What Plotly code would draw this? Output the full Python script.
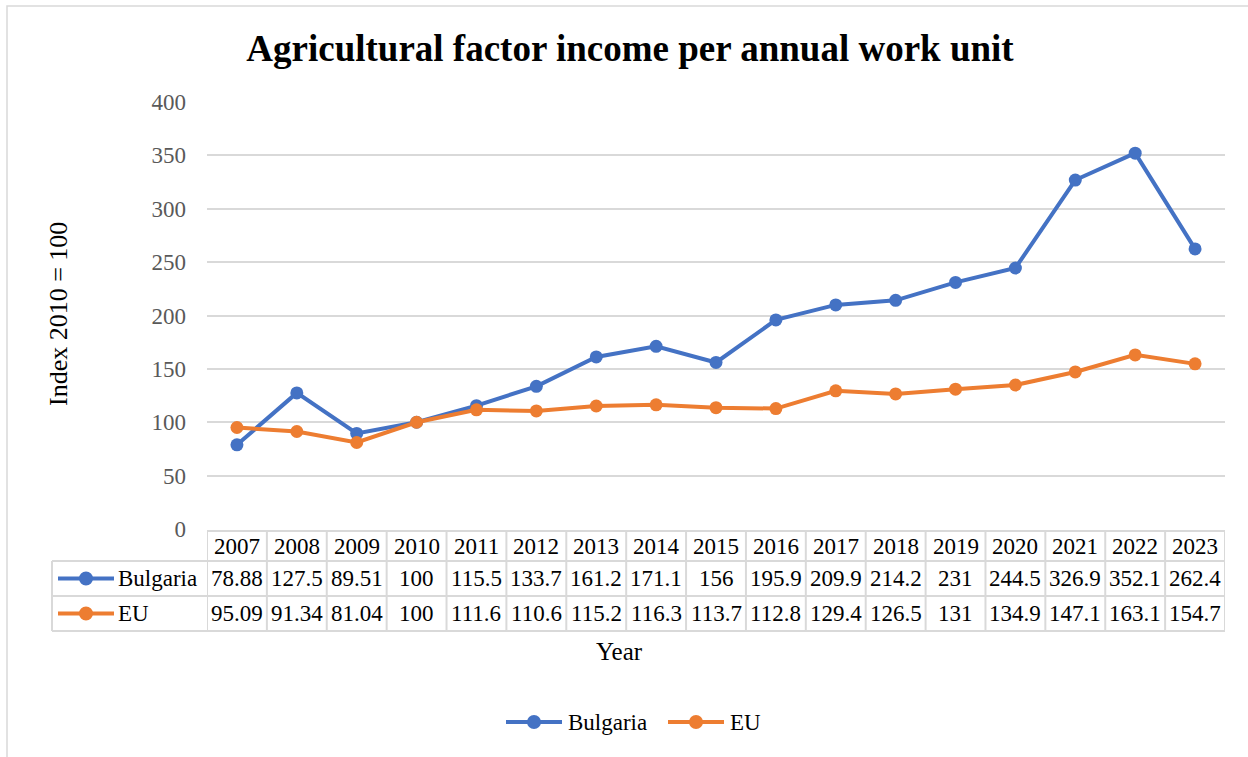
import plotly.graph_objects as go

# Index of agricultural factor income per annual work unit (2010 = 100)
years = ["2007", "2008", "2009", "2010", "2011", "2012", "2013", "2014", "2015",
         "2016", "2017", "2018", "2019", "2020", "2021", "2022", "2023"]
bulgaria = [78.88, 127.5, 89.51, 100, 115.5, 133.7, 161.2, 171.1, 156,
            195.9, 209.9, 214.2, 231, 244.5, 326.9, 352.1, 262.4]
eu = [95.09, 91.34, 81.04, 100, 111.6, 110.6, 115.2, 116.3, 113.7,
      112.8, 129.4, 126.5, 131, 134.9, 147.1, 163.1, 154.7]
series_names = ["Bulgaria", "EU"]
series_colors = ["#4472C4", "#ED7D31"]
y_ticks = [0, 50, 100, 150, 200, 250, 300, 350, 400]

W, H = 1248, 757
L, R, T, B = 207, 1225, 102, 529  # plot area in pixels
FONT = "Liberation Serif, Times New Roman, serif"
GRID = "#d9d9d9"


def px_x(px):
    return (px - L) / (R - L)


def px_y(py):
    return (B - py) / (B - T)


fig = go.Figure()
for name, vals, col in zip(series_names, [bulgaria, eu], series_colors):
    fig.add_trace(go.Scatter(
        x=years, y=vals, name=name, mode="lines+markers",
        line=dict(color=col, width=4),
        marker=dict(color=col, size=13),
        showlegend=False,
    ))

shapes = []
annotations = []


def legend_key(x_left, cy, col, length=56, rad=7):
    """Line-with-marker swatch drawn in paper coordinates."""
    xm = x_left + length / 2
    shapes.append(dict(type="line", xref="paper", yref="paper",
                       x0=px_x(x_left), x1=px_x(x_left + length), y0=cy, y1=cy,
                       line=dict(color=col, width=4)))
    shapes.append(dict(type="circle", xref="paper", yref="paper",
                       x0=px_x(xm - rad), x1=px_x(xm + rad),
                       y0=cy - rad / (B - T), y1=cy + rad / (B - T),
                       fillcolor=col, line=dict(color=col, width=0)))


# outer chart border
shapes.append(dict(type="rect", xref="paper", yref="paper",
                   x0=px_x(7), x1=px_x(1262), y0=px_y(770), y1=px_y(6),
                   line=dict(color=GRID, width=1.5), layer="below"))

# data table below the plot
row_y = [531, 561, 596, 631]
n = len(years)
tline = dict(color=GRID, width=2)
shapes.append(dict(type="line", xref="x", yref="paper", x0=-0.5, x1=n - 0.5,
                   y0=px_y(row_y[0]), y1=px_y(row_y[0]), line=tline))
for ry in row_y[1:]:
    shapes.append(dict(type="line", xref="paper", yref="paper", x0=px_x(52), x1=1,
                       y0=px_y(ry), y1=px_y(ry), line=tline))
for k in range(n + 1):
    shapes.append(dict(type="line", xref="x", yref="paper", x0=k - 0.5, x1=k - 0.5,
                       y0=px_y(row_y[0]), y1=px_y(row_y[3]), line=tline))
shapes.append(dict(type="line", xref="paper", yref="paper", x0=px_x(52), x1=px_x(52),
                   y0=px_y(row_y[1]), y1=px_y(row_y[3]), line=tline))

cell_font = dict(family=FONT, size=23, color="#000000")
for i, yr in enumerate(years):
    annotations.append(dict(x=i, xref="x", y=px_y((row_y[0] + row_y[1]) / 2), yref="paper",
                            text=yr, showarrow=False, font=cell_font,
                            xanchor="center", yanchor="middle"))
for r, (name, vals, col) in enumerate(zip(series_names, [bulgaria, eu], series_colors)):
    cy = px_y((row_y[r + 1] + row_y[r + 2]) / 2)
    for i, v in enumerate(vals):
        annotations.append(dict(x=i, xref="x", y=cy, yref="paper",
                                text=f"{v:g}", showarrow=False, font=cell_font,
                                xanchor="center", yanchor="middle"))
    legend_key(58, cy, col)
    annotations.append(dict(x=px_x(116), xref="paper", y=cy, yref="paper",
                            text=name, showarrow=False, font=cell_font,
                            xanchor="left", yanchor="middle"))

# legend below the chart
leg_y = px_y(722)
for x_left, name, col in zip([506, 668], series_names, series_colors):
    legend_key(x_left, leg_y, col)
    annotations.append(dict(x=px_x(x_left + 60), xref="paper", y=leg_y, yref="paper",
                            text=name, showarrow=False, font=cell_font,
                            xanchor="left", yanchor="middle"))

# axis titles
annotations.append(dict(x=px_x(619), xref="paper", y=px_y(651), yref="paper",
                        text="Year", showarrow=False,
                        font=dict(family=FONT, size=25, color="#000000"),
                        xanchor="center", yanchor="middle"))
annotations.append(dict(x=px_x(58), xref="paper", y=px_y(314), yref="paper",
                        text="Index 2010 = 100", showarrow=False, textangle=-90,
                        font=dict(family=FONT, size=26, color="#000000"),
                        xanchor="center", yanchor="middle"))

fig.update_layout(
    width=W, height=H,
    margin=dict(l=L, r=W - R, t=T, b=H - B),
    paper_bgcolor="white", plot_bgcolor="white",
    title=dict(text="<b>Agricultural factor income per annual work unit</b>",
               x=px_x(630), xref="paper", xanchor="center",
               y=1 - 48 / H, yanchor="middle",
               font=dict(family=FONT, size=37, color="#000000")),
    font=dict(family=FONT, size=23, color="#000000"),
    showlegend=False,
    xaxis=dict(type="category", range=[-0.5, n - 0.5], showticklabels=False,
               showgrid=False, zeroline=False, showline=False, ticks=""),
    yaxis=dict(range=[0, 400], tickvals=y_ticks, showgrid=True, gridcolor=GRID,
               gridwidth=1.5, zeroline=False, showline=False, ticks="",
               ticklabelstandoff=20,
               tickfont=dict(family=FONT, size=23, color="#595959")),
    shapes=shapes,
    annotations=annotations,
)

fig.write_html("out.html")
